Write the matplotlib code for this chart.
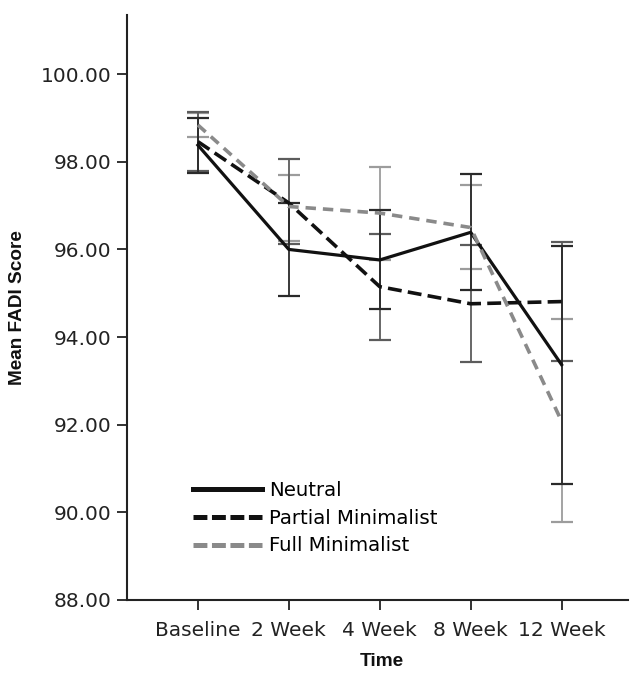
import matplotlib

matplotlib.use("Agg")

import matplotlib.pyplot as plt
from matplotlib.lines import Line2D
from matplotlib.ticker import FormatStrFormatter

plt.rcParams["font.family"] = ["DejaVu Sans"]
plt.rcParams["lines.scale_dashes"] = False

# data
time_points = ["Baseline", "2 Week", "4 Week", "8 Week", "12 Week"]

neutral_mean = [98.38, 96.00, 95.76, 96.39, 93.37]
neutral_low = [97.75, 94.94, 94.63, 95.08, 90.64]
neutral_high = [99.00, 97.07, 96.89, 97.72, 96.07]

partial_mean = [98.46, 97.06, 95.15, 94.76, 94.81]
partial_low = [97.78, 96.13, 93.93, 93.42, 93.45]
partial_high = [99.14, 98.06, 96.35, 96.10, 96.16]

full_mean = [98.84, 96.98, 96.83, 96.50, 92.08]
full_low = [98.57, 96.20, 95.77, 95.55, 89.78]
full_high = [99.11, 97.70, 97.89, 97.47, 94.41]

series = [
    ("Neutral", neutral_mean, neutral_low, neutral_high, "#111111", "#2a2a2a", "-", None),
    ("Partial Minimalist", partial_mean, partial_low, partial_high, "#111111", "#5c5c5c", "--", (10, 4.5)),
    ("Full Minimalist", full_mean, full_low, full_high, "#8a8a8a", "#9c9c9c", "--", (7.5, 5)),
]

fig = plt.figure(figsize=(6.32, 6.73), dpi=100)
ax = fig.add_axes([0.2009, 0.1085, 0.7927, 0.8692])

x = list(range(len(time_points)))

# error bars first, lines on top
for name, mean, low, high, color, ecolor, ls, dashes in reversed(series):
    yerr = [[m - lo for m, lo in zip(mean, low)], [hi - m for m, hi in zip(mean, high)]]
    ax.errorbar(x, mean, yerr=yerr, fmt="none", ecolor=ecolor, elinewidth=1.3,
                capsize=8, capthick=1.6, zorder=2)

handles = []
for name, mean, low, high, color, ecolor, ls, dashes in series:
    lw = 2.3 if ls == "-" else 2.6
    line, = ax.plot(x, mean, color=color, linewidth=lw, linestyle=ls, zorder=3)
    if dashes:
        line.set_dashes(dashes)
    h = Line2D([], [], color=color, linewidth=3.6, linestyle=ls)
    if dashes:
        h.set_dashes((10, 3.3))
    handles.append(h)

ax.set_xlim(-0.78, 4.73)
ax.set_ylim(88, 101.35)
ax.set_xticks(x)
ax.set_xticklabels(time_points)
ax.set_yticks([88, 90, 92, 94, 96, 98, 100])
ax.yaxis.set_major_formatter(FormatStrFormatter("%.2f"))

for side in ["top", "right"]:
    ax.spines[side].set_visible(False)
for side in ["left", "bottom"]:
    ax.spines[side].set_linewidth(1.5)
    ax.spines[side].set_color("#222222")

ax.tick_params(axis="both", direction="out", length=7.5, width=1.3,
               colors="#222222", labelsize=14.5, labelcolor="#222222")
ax.tick_params(axis="y", pad=3.5)
ax.tick_params(axis="x", pad=7.5)

label_font = {"family": ["Liberation Sans", "DejaVu Sans"], "size": 13.7,
              "weight": "bold", "color": "#111111"}
ax.set_ylabel("Mean FADI Score", fontdict=label_font)
ax.yaxis.set_label_coords(-0.2016, 0.5)
ax.set_xlabel("Time", fontdict=label_font)
ax.xaxis.set_label_coords(0.509, -0.106)
ax.xaxis.label.set_va("center")

ax.legend(handles, [s[0] for s in series], loc="center left",
          bbox_to_anchor=(0.1317, 0.140), frameon=False, fontsize=14.2,
          handlelength=3.5, handletextpad=0.35, labelspacing=0.45,
          borderpad=0, borderaxespad=0)

fig.savefig("out.png", dpi=100)
plt.close(fig)
